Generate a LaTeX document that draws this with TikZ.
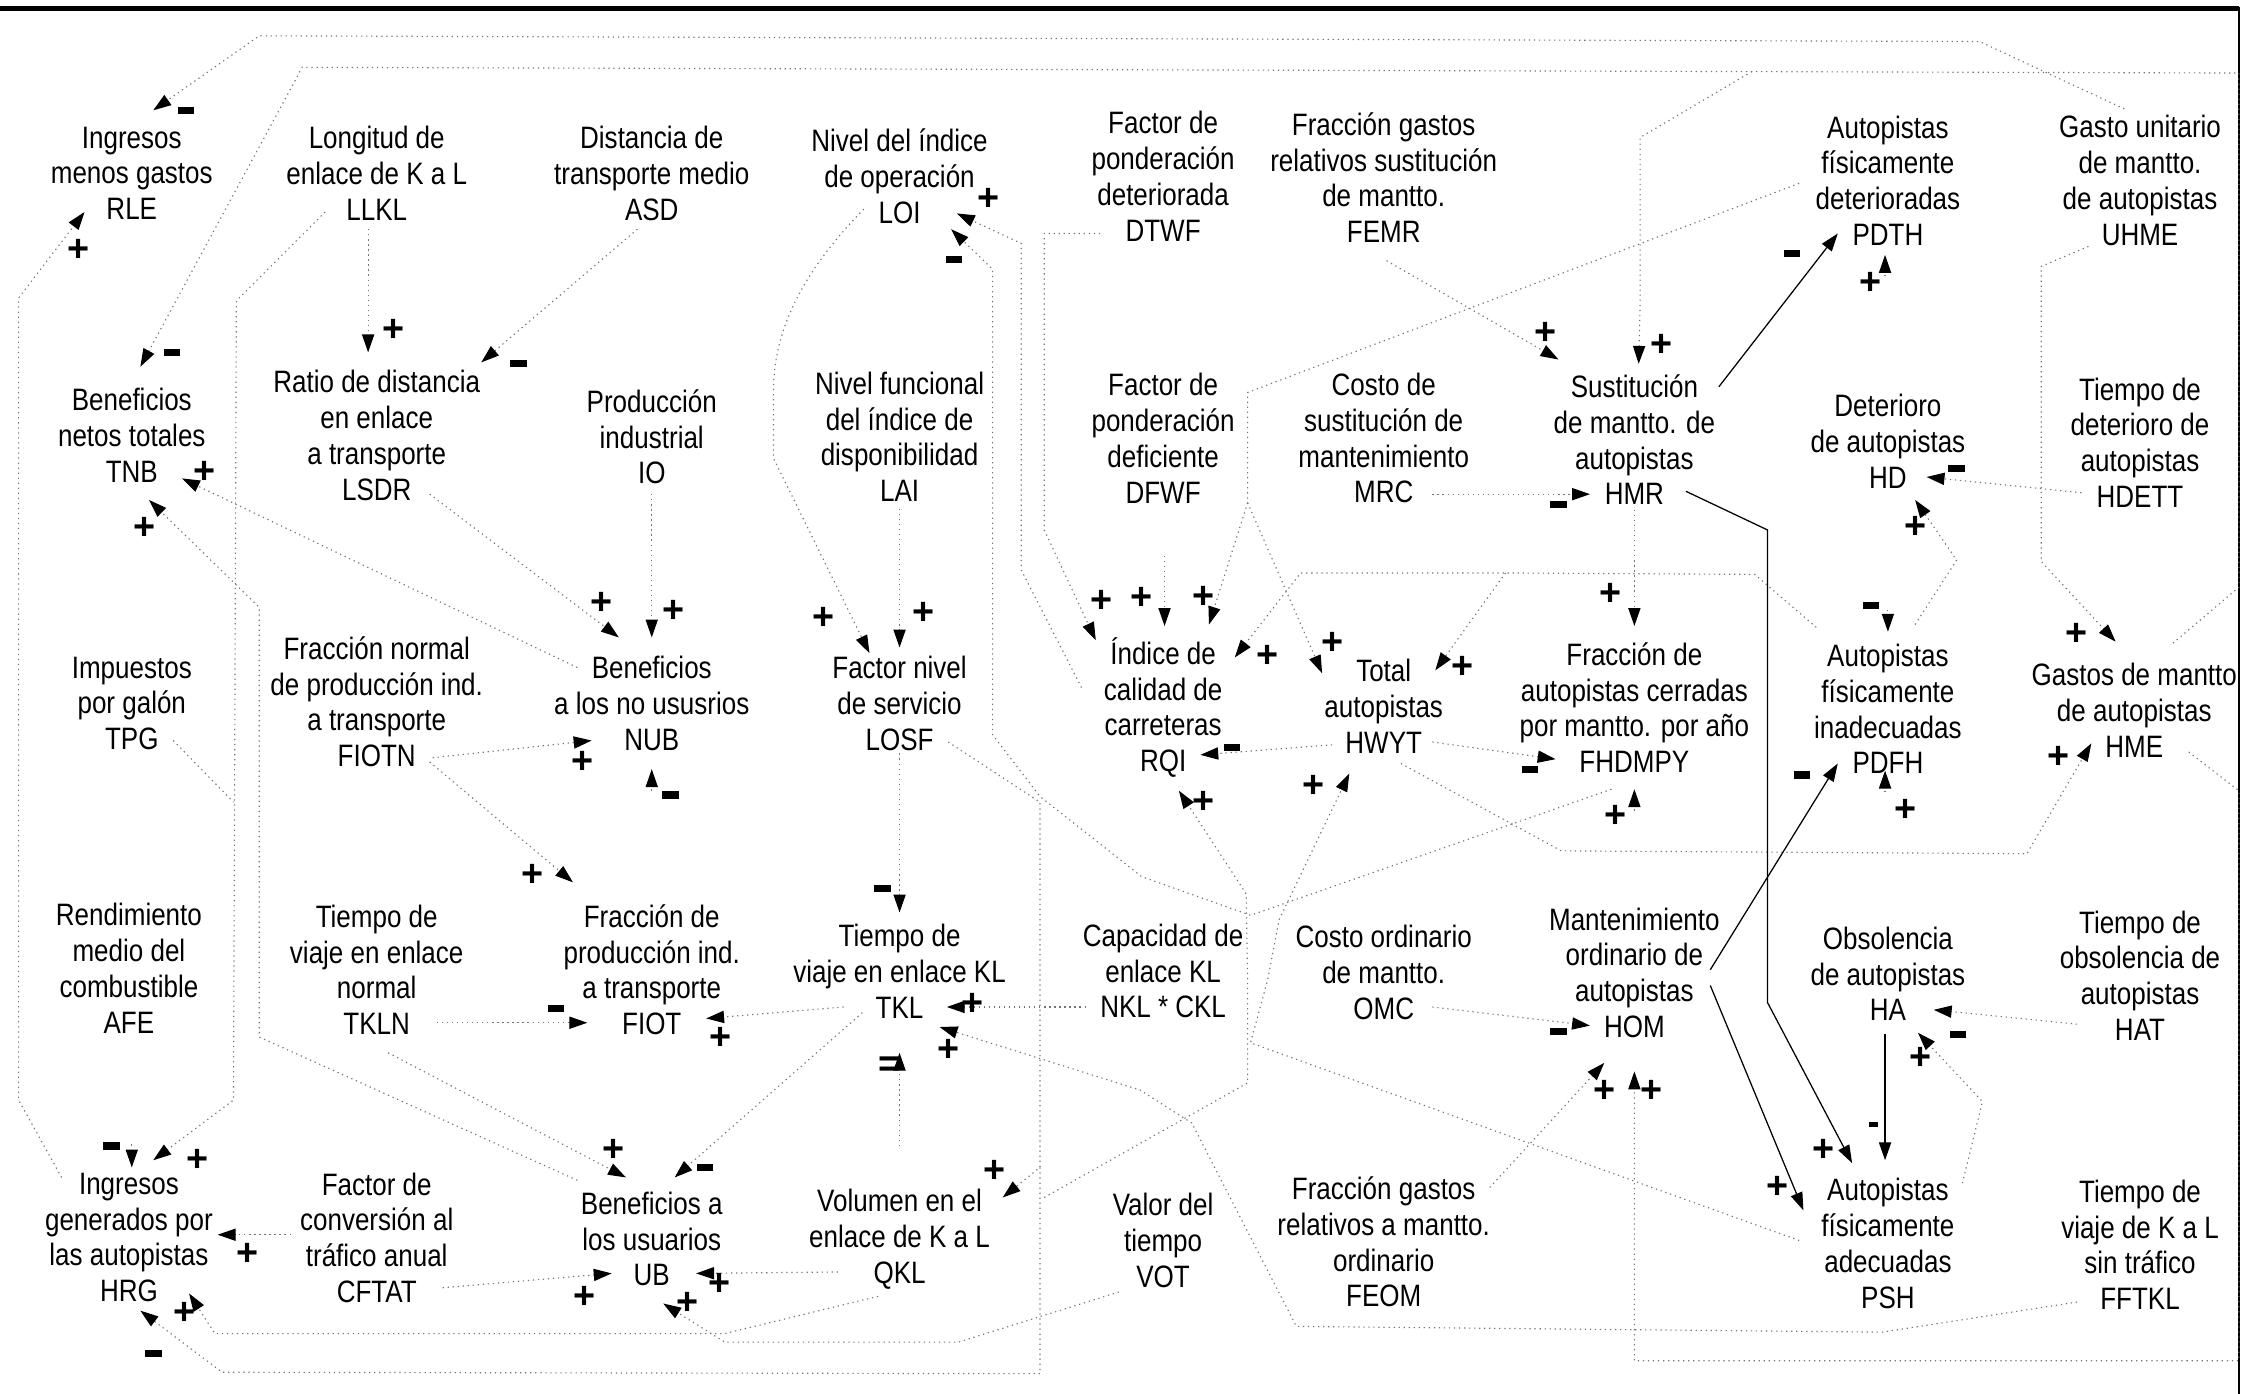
\documentclass[tikz,border=0pt]{standalone}
\usepackage{fontspec}
\setmainfont{Liberation Sans}
\newfontfamily\nf[FakeStretch=0.84]{Liberation Sans}
\newfontfamily\pf{Liberation Sans}
\usetikzlibrary{arrows.meta}
\begin{document}
\begin{tikzpicture}[x=0.02cm,y=-0.02cm,
  v/.style={align=center,inner sep=0pt,font=\nf\fontsize{12.3}{14.2}\selectfont},
  lk/.style={line width=0.45pt,dash pattern=on 0.5pt off 1.5pt,black!55,-{Triangle[length=0.25cm,width=0.17cm,color=black]}},
  lkn/.style={line width=0.45pt,dash pattern=on 0.5pt off 1.5pt,black!55},
  sl/.style={line width=0.5pt,black,-{Triangle[length=0.25cm,width=0.17cm]}},
  pl/.style={inner sep=0pt,font=\pf\bfseries\fontsize{15}{15}\selectfont},
  mi/.style={fill=black,minimum width=0.23cm,minimum height=0.1cm,inner sep=0pt},
  ms/.style={fill=black,minimum width=0.12cm,minimum height=0.06cm,inner sep=0pt}]
\useasboundingbox (0,0) rectangle (1568,973);
% frame
\draw[line width=1.7pt] (0,6) -- (1563,6);
\draw[line width=1pt] (1563,5) -- (1563,973);
% nodes
\node[v] (RLE) at (92,121) {Ingresos\\menos gastos\\RLE};
\node[v] (LLKL) at (263,121) {Longitud de\\enlace de K a L\\LLKL};
\node[v] (ASD) at (455,121) {Distancia de\\transporte medio\\ASD};
\node[v] (LOI) at (628,123) {Nivel del índice\\de operación\\LOI};
\node[v] (DTWF) at (812,123) {Factor de\\ponderación\\deteriorada\\DTWF};
\node[v] (FEMR) at (966,124) {Fracción gastos\\relativos sustitución\\de mantto.\\FEMR};
\node[v] (PDTH) at (1318,126) {Autopistas\\físicamente\\deterioradas\\PDTH};
\node[v] (UHME) at (1494,126) {Gasto unitario\\de mantto.\\de autopistas\\UHME};
\node[v] (TNB) at (92,304) {Beneficios\\netos totales\\TNB};
\node[v] (LSDR) at (263,304) {Ratio de distancia\\en enlace\\a transporte\\LSDR};
\node[v] (IO) at (455,305) {Producción\\industrial\\IO};
\node[v] (LAI) at (628,305) {Nivel funcional\\del índice de\\disponibilidad\\LAI};
\node[v] (DFWF) at (812,306) {Factor de\\ponderación\\deficiente\\DFWF};
\node[v] (MRC) at (966,306) {Costo de\\sustitución de\\mantenimiento\\MRC};
\node[v] (HMR) at (1141,307) {Sustitución\\de mantto. de\\autopistas\\HMR};
\node[v] (HD) at (1318,308) {Deterioro\\de autopistas\\HD};
\node[v] (HDETT) at (1494,309) {Tiempo de\\deterioro de\\autopistas\\HDETT};
\node[v] (TPG) at (92,491) {Impuestos\\por galón\\TPG};
\node[v] (FIOTN) at (263,490) {Fracción normal\\de producción ind.\\a transporte\\FIOTN};
\node[v] (NUB) at (455,491) {Beneficios\\a los no ususrios\\NUB};
\node[v] (LOSF) at (628,491) {Factor nivel\\de servicio\\LOSF};
\node[v] (RQI) at (812,494) {Índice de\\calidad de\\carreteras\\RQI};
\node[v] (HWYT) at (966,493) {Total\\autopistas\\HWYT};
\node[v] (FHDMPY) at (1141,494) {Fracción de\\autopistas cerradas\\por mantto. por año\\FHDMPY};
\node[v] (PDFH) at (1318,495) {Autopistas\\físicamente\\inadecuadas\\PDFH};
\node[v] (HME) at (1490,496) {Gastos de mantto\\de autopistas\\HME};
\node[v] (AFE) at (90,676) {Rendimiento\\medio del\\combustible\\AFE};
\node[v] (TKLN) at (263,677) {Tiempo de\\viaje en enlace\\normal\\TKLN};
\node[v] (FIOT) at (455,677) {Fracción de\\producción ind.\\a transporte\\FIOT};
\node[v] (TKL) at (628,678) {Tiempo de\\viaje en enlace KL\\TKL};
\node[v] (NKL) at (812,678) {Capacidad de\\enlace KL\\NKL * CKL};
\node[v] (OMC) at (966,679) {Costo ordinario\\de mantto.\\OMC};
\node[v] (HOM) at (1141,679) {Mantenimiento\\ordinario de\\autopistas\\HOM};
\node[v] (HA) at (1318,680) {Obsolencia\\de autopistas\\HA};
\node[v] (HAT) at (1494,681) {Tiempo de\\obsolencia de\\autopistas\\HAT};
\node[v] (HRG) at (90,864) {Ingresos\\generados por\\las autopistas\\HRG};
\node[v] (CFTAT) at (263,864) {Factor de\\conversión al\\tráfico anual\\CFTAT};
\node[v] (UB) at (455,865) {Beneficios a\\los usuarios\\UB};
\node[v] (QKL) at (628,865) {Volumen en el\\enlace de K a L\\QKL};
\node[v] (VOT) at (812,866) {Valor del\\tiempo\\VOT};
\node[v] (FEOM) at (966,867) {Fracción gastos\\relativos a mantto.\\ordinario\\FEOM};
\node[v] (PSH) at (1318,868) {Autopistas\\físicamente\\adecuadas\\PSH};
\node[v] (FFTKL) at (1494,869) {Tiempo de\\viaje de K a L\\sin tráfico\\FFTKL};
% connector end points
\foreach \n/\x/\y in {t1/107/77,t2/59/148,t3/98/256,t4/127/334,t5/104/349,t6/257/246,t7/336/253,
 t8/432/445,t9/455/445,t10/413/517,t11/455/537,t12/400/616,t13/410/714,t14/493/711,t15/607/456,
 t16/628/452,t17/668/149,t18/664/160,t19/628/637,t20/628/735,t21/661/703,t22/656/717,t23/437/822,
 t24/471/822,t25/427/889,t26/486/889,t27/463/910,t28/700/836,t29/92/815,t30/107/810,t31/152/862,
 t32/132/903,t33/98/915,t34/765/447,t35/813/437,t36/844/436,t37/862/459,t38/838/527,t39/823/552,
 t40/923/470,t41/1002/468,t42/942/540,t43/1086/530,t44/1141/437,t45/1141/551,t46/1088/251,
 t47/1144/254,t48/1110/345,t49/1283/163,t50/1316/178,t51/1345/333,t52/1337/349,t53/1318/441,
 t54/1283/533,t55/1316/538,t56/1477/448,t57/1460/519,t58/1110/716,t59/1120/742,t60/1141/748,
 t61/1350/705,t62/1339/721,t63/1293/812,t64/1259/845,t65/1316/810}
 {\coordinate (\n) at (\x,\y);}
\foreach \n/\x/\y in {sUHME/1483/76,sHMEa/1517/449,jTop/1223/50,sHRG/43/822,sLLKLa/227/148,
 sTPG/121/517,sAFE/92/799,sCFTATa/203/862,sQKLa/613/905,sLOSFa/662/518,jLOSF/726/815,sNUB/403/466,
 sUB/403/824,sTKLNa/271/735,sTKLa/602/707,sCFTATb/309/899,sQKLb/585/888,sVOT/781/902,
 sLLKLb/257/160,sASD/445/160,sLSDR/300/345,sIO/455/345,sFIOTNa/302/529,sFIOT/455/552,
 sFIOTNb/300/532,sTKLNb/305/714,sTKLb/589/703,sLOSFb/628/526,sQKLc/628/800,sNKL/758/703,
 sFFTKL/1450/909,sLOI/603/146,sLAI/628/355,sRQI/755/480,sFHDMPY/1125/551,sDTWF/768/163,
 sDFWF/813/388,sPDTH/1256/128,jApex/871/351,sPDFHa/1268/438,jPDFH/1051/400,sHWYTa/930/520,
 sQKLd/729/836,sPSHa/1256/866,sHWYTb/1000/518,sHWYTc/978/533,sHMRa/1141/356,sHOMa/1141/566,
 sFEMR/968/182,sMRC/1000/345,sHMRb/1200/270,sHMRc/1177/343,sHDa/1316/193,sHDETT/1453/344,
 sPDFHb/1337/436,sHDb/1318/426,sHOMb/1194/677,sHAa/1316/553,sUHMEb/1458/172,sHMEb/1528/525,
 sOMC/1000/703,sFEOM/1040/829,sHOMc/1194/688,sHAb/1316/722,sHAT/1450/715,sPSHb/1370/826}
 {\coordinate (\n) at (\x,\y);}
% connectors
\draw[lk] (sUHME) -- (1382,29) -- (181,25) -- (t1);
\draw[lk] (sHMEa) -- (1563,410) -- (1563,51) -- (211,47) -- (t3);
\draw[lk] (jTop) -- (1145,96) -- (1145,212) -- (t47);
\draw[lk] (sHRG) -- (13,768) -- (13,208) -- (t2);
\draw[lk] (sLLKLa) -- (165,210) -- (163,768) -- (t30);
\draw[lkn] (sTPG) -- (163,560);
\draw[lk] (sAFE) -- (t29);
\draw[lk] (sCFTATa) -- (t31);
\draw[lk] (sQKLa) -- (506,931) -- (150,931) -- (t32);
\draw[lk] (sLOSFa) -- (726,560) -- (jLOSF) -- (t28);
\draw[lk] (jLOSF) -- (726,959) -- (155,958) -- (t33);
\draw[lk] (sNUB) -- (t4);
\draw[lk] (sUB) -- (181,724) -- (181,424) -- (t5);
\draw[lk] (sTKLNa) -- (t23);
\draw[lk] (sTKLa) -- (t24);
\draw[lk] (sCFTATb) -- (t25);
\draw[lk] (sQKLb) -- (t26);
\draw[lk] (sVOT) -- (669,937) -- (506,937) -- (t27);
\draw[lk] (sLLKLb) -- (t6);
\draw[lk] (sASD) -- (t7);
\draw[lk] (sLSDR) -- (t8);
\draw[lk] (sIO) -- (t9);
\draw[lk] (sFIOTNa) -- (t10);
\draw[lk] (sFIOT) -- (t11);
\draw[lk] (sFIOTNb) -- (t12);
\draw[lk] (sTKLNb) -- (t13);
\draw[lk] (sTKLb) -- (t14);
\draw[lk] (sLOSFb) -- (t19);
\draw[lk] (sQKLc) -- (t20);
\draw[lk] (sNKL) -- (t21);
\draw[lk] (sFFTKL) -- (1314,930) -- (905,926) -- (832,784) -- (796,761) -- (t22);
\draw[lk] (sLOI) .. controls (565,185) and (541,225) .. (540,270) -- (540,320) -- (t15);
\draw[lk] (sLAI) -- (t16);
\draw[lk] (sRQI) -- (713,398) -- (713,170) -- (t17);
\draw[lk] (sFHDMPY) -- (873,639) -- (797,612) -- (726,556) -- (693,513) -- (693,188) -- (t18);
\draw[lk] (sDTWF) -- (729,163) -- (729,370) -- (t34);
\draw[lk] (sDFWF) -- (t35);
\draw[lkn] (sPDTH) -- (871,274) -- (jApex);
\draw[lk] (jApex) -- (t36);
\draw[lk] (jApex) -- (t40);
\draw[lk] (sPDFHa) -- (1225,401) -- (jPDFH) -- (908,400) -- (t37);
\draw[lk] (jPDFH) -- (t41);
\draw[lk] (sHWYTa) -- (t38);
\draw[lk] (sQKLd) -- (871,756) -- (871,686) -- (870,624) -- (t39);
\draw[lk] (sPSHa) -- (873,728) -- (885,684) -- (893,642) -- (t42);
\draw[lk] (sHWYTb) -- (t43);
\draw[lk] (sHWYTc) -- (1090,594) -- (1415,596) -- (t57);
\draw[lk] (sHMRa) -- (t44);
\draw[lk] (sHOMa) -- (t45);
\draw[lk] (sFEMR) -- (t46);
\draw[lk] (sMRC) -- (t48);
\draw[sl] (sHMRb) -- (t49);
\draw[sl] (sHMRc) -- (1234,370) -- (1234,700) -- (t63);
\draw[lk] (sHDa) -- (t50);
\draw[lk] (sHDETT) -- (t51);
\draw[lk] (sPDFHb) -- (1366,391) -- (t52);
\draw[lk] (sHDb) -- (t53);
\draw[sl] (sHOMb) -- (t54);
\draw[lk] (sHAa) -- (t55);
\draw[lk] (sUHMEb) -- (1425,186) -- (1425,392) -- (t56);
\draw[lk] (sHMEb) -- (1563,552) -- (1563,950) -- (1141,950) -- (t60);
\draw[lk] (sOMC) -- (t58);
\draw[lk] (sFEOM) -- (t59);
\draw[sl] (sHOMc) -- (t64);
\draw[sl] (sHAb) -- (t65);
\draw[lk] (sHAT) -- (t61);
\draw[lk] (sPSHb) -- (1384,769) -- (t62);
% polarity signs
\foreach \n/\x/\y in {m1/130/77,m2/120/246,m3/362/254,m4/468/555,m5/388/704,m6/616/620,m7/492/815,
 m8/78/800,m9/107/945,m10/666/181,m11/860/522,m12/1068/537,m13/1088/352,m14/1251/177,m15/1366/327,
 m16/1306/423,m17/1258/541,m18/1088/720,m19/1367/722}
 {\node[mi] (\n) at (\x,\y) {};}
\node[ms] (ms1) at (1308,785) {};
\node[pl] (e1) at (621,745) {=};
\foreach \n/\x/\y in {p1/55/175,p2/143/330,p3/101/369,p4/275/231,p5/420/421,p6/470/427,p7/407/532,
 p8/372/611,p9/503/725,p10/575/432,p11/645/428,p12/690/139,p13/679/701,p14/662/733,p15/428/803,
 p16/408/906,p17/502/897,p18/480/910,p19/694/818,p20/138/810,p21/173/876,p22/129/917,p23/769/420,
 p24/797/418,p25/840/417,p26/885/458,p27/840/560,p28/930/449,p29/1021/466,p30/917/549,p31/1124/415,
 p32/1128/570,p33/1079/233,p34/1160/241,p35/1306/198,p36/1337/368,p37/1330/566,p38/1450/443,
 p39/1437/529,p40/1120/762,p41/1153/762,p42/1273/803,p43/1241/829,p44/1341/739}
 {\node[pl] (\n) at (\x,\y) {+};}
\end{tikzpicture}
\end{document}
